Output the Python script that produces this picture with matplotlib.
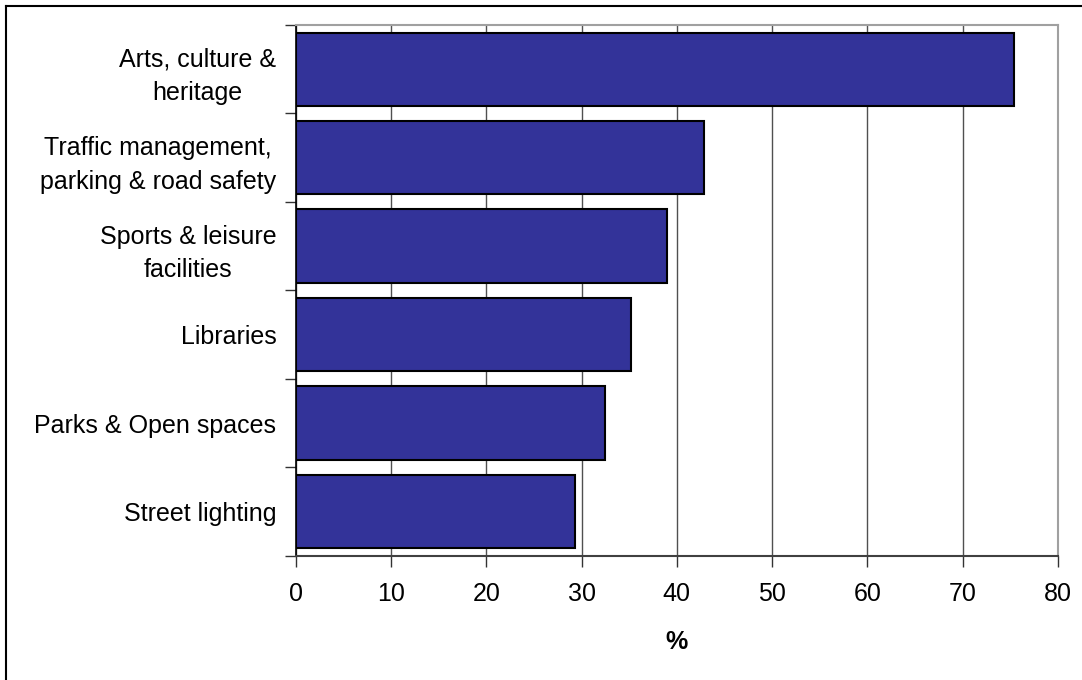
import matplotlib
matplotlib.use("Agg")
import matplotlib.pyplot as plt
from matplotlib.lines import Line2D

categories = ["Arts, culture &\nheritage",
              "Traffic management,\nparking & road safety",
              "Sports & leisure\nfacilities",
              "Libraries",
              "Parks & Open spaces",
              "Street lighting"]
values = [75.4, 42.8, 39.0, 35.2, 32.5, 29.3]
xticks = [0, 10, 20, 30, 40, 50, 60, 70, 80]

plt.rcParams['font.family'] = ['Liberation Sans', 'DejaVu Sans']

fig = plt.figure(figsize=(10.82, 6.8), dpi=100)
ax = fig.add_axes([0.2733, 0.1828, 0.9778 - 0.2733, 0.9632 - 0.1828])

n = len(categories)
ypos = list(range(n))
ax.barh(ypos, values, height=0.83, color="#333399", edgecolor="black", linewidth=1.5, zorder=3)
ax.set_ylim(n - 0.5, -0.5)
ax.set_xlim(0, 80)

ax.set_xticks(xticks)
ax.set_xticklabels([str(t) for t in xticks], fontsize=18)
ax.xaxis.grid(True, color="#505050", linewidth=1.0, zorder=0)
ax.set_axisbelow(True)

# category labels at bar centers, ticks at boundaries
ax.set_yticks(ypos)
ax.set_yticklabels(categories, fontsize=18, linespacing=1.5, multialignment='center')
ax.tick_params(axis='y', which='major', length=0, pad=14)
ax.set_yticks([i - 0.5 for i in range(n + 1)], minor=True)
ax.tick_params(axis='y', which='minor', length=8, width=1.0, color='#333333', direction='out')
ax.tick_params(axis='x', which='major', length=8, width=1.0, color='#333333', direction='out', pad=11)

ax.set_xlabel("%", fontsize=18, fontweight='bold', labelpad=17)

for side in ['top', 'right']:
    ax.spines[side].set_color('#a0a0a0')
    ax.spines[side].set_linewidth(1.5)
ax.spines['left'].set_color('black')
ax.spines['left'].set_linewidth(1.2)
ax.spines['bottom'].set_color('#404040')
ax.spines['bottom'].set_linewidth(1.5)

# outer frame (left and top only)
fig.add_artist(Line2D([6/1082, 6/1082], [0, 1 - 6/680], transform=fig.transFigure, color='black', linewidth=1.5))
fig.add_artist(Line2D([6/1082, 1], [1 - 6/680, 1 - 6/680], transform=fig.transFigure, color='black', linewidth=1.5))

fig.savefig("out.png", dpi=100)
